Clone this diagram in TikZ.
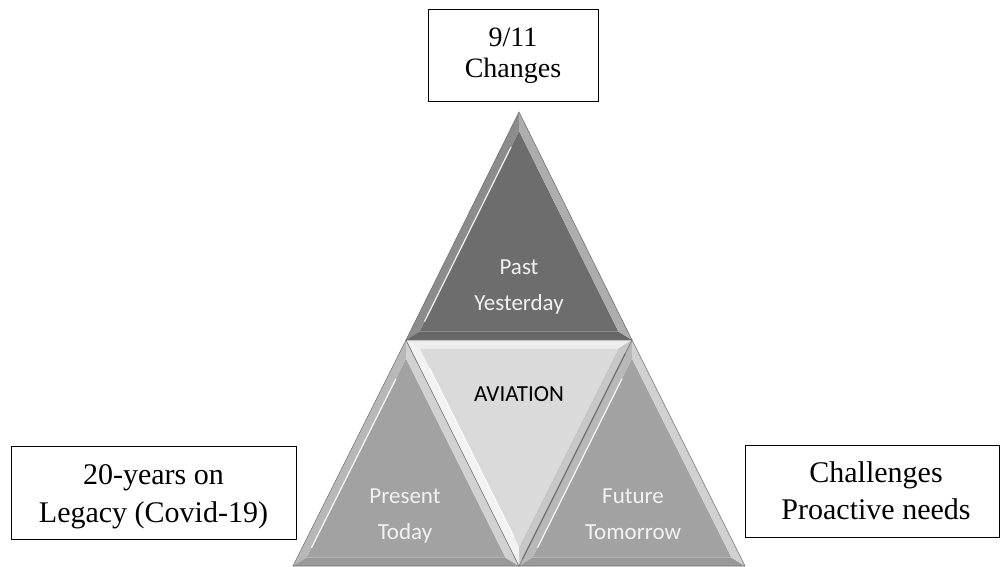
\documentclass[tikz,border=0pt]{standalone}
\usepackage{fontspec}
\setmainfont{Liberation Serif}
\newfontfamily\calfont{Carlito}
\usetikzlibrary{calc}
\definecolor{topface}{HTML}{6D6D6D}
\definecolor{lowface}{HTML}{A2A2A2}
\definecolor{midface}{HTML}{DADADA}
\newcommand{\bevtri}[8]{%
  \path #1 coordinate (o1) #2 coordinate (o2) #3 coordinate (o3);
  \path ($#4!0.88!(o1)$) coordinate (i1) ($#4!0.88!(o2)$) coordinate (i2) ($#4!0.88!(o3)$) coordinate (i3);
  \fill[#5] (i1)--(i2)--(i3)--cycle;
  \fill[#6] (o1)--(o2)--(i2)--(i1)--cycle;
  \fill[#7] (o2)--(o3)--(i3)--(i2)--cycle;
  \fill[#8] (o3)--(o1)--(i1)--(i3)--cycle;
}
\tikzset{
  box/.style={draw=black, line width=1pt, fill=white, align=center, inner sep=0pt,
    font=\fontsize{28}{31}\selectfont},
  trilabel/.style={text=white!95!black, align=center, font=\calfont\fontsize{23}{36}\selectfont},
  edge/.style={draw=black!55, line width=0.6pt},
  shine/.style={draw=white, line width=1.2pt, opacity=0.9},
}
\begin{document}
\begin{tikzpicture}[x=1pt,y=-1pt]
\useasboundingbox (0,0) rectangle (1003,567);
% top triangle (Past)
\bevtri{(519,112)}{(406,340)}{(632,340)}{(519,270)}{topface}{black!45}{black!60}{black!32}
\draw[shine] ($(i1)!0.08!(i2)$) -- ($(i1)!0.95!(i2)$);
\draw[edge] (o1)--(o2)--(o3)--cycle;
% lower-left (Present)
\bevtri{(406,340)}{(293,566)}{(519,566)}{(406,496)}{lowface}{black!28}{black!40}{black!18}
\draw[shine] ($(i1)!0.1!(i2)$) -- ($(i1)!0.95!(i2)$);
\draw[shine] ($(o3)!0.05!(o1)$) -- ($(o3)!0.9!(o1)$);
\draw[edge] (o1)--(o2)--(o3)--cycle;
% lower-right (Future)
\bevtri{(632,340)}{(519,566)}{(745,566)}{(632,496)}{lowface}{black!28}{black!40}{black!18}
\draw[shine] ($(i1)!0.1!(i2)$) -- ($(i1)!0.95!(i2)$);
\draw[edge] (o1)--(o2)--(o3)--cycle;
% centre inverted (AVIATION)
\bevtri{(406,340)}{(632,340)}{(519,566)}{(519,410)}{midface}{black!7}{black!22}{black!5}
\draw[shine] ($(i3)!0.05!(i1)$) -- ($(i3)!0.9!(i1)$);
\draw[draw=black!60, line width=1pt] ($(o2)!0.06!(o3)$) -- ($(o2)!0.97!(o3)$);
\draw[edge] (o1)--(o2)--(o3)--cycle;
% labels
\node[trilabel] (past) at (519,287) {Past\\Yesterday};
\node[trilabel] (present) at (405,516) {Present\\Today};
\node[trilabel] (future) at (633,516) {Future\\Tomorrow\vphantom{y}};
\node[align=center, text=black, font=\calfont\fontsize{23}{27}\selectfont] (aviation) at (519,394) {AVIATION};
% boxes
\node[box, minimum width=170pt, minimum height=92pt] (changes) at (513,56) {9/11\\Changes};
\node[box, minimum width=285pt, minimum height=93pt, font=\fontsize{30}{38}\selectfont] (legacy) at (153.5,492.5) {\rule{0pt}{29pt}20-years on\\Legacy (Covid-19)};
\node[box, minimum width=254pt, minimum height=92pt, font=\fontsize{30}{37}\selectfont] (needs) at (872,491) {\hspace*{8pt}Challenges\\\hspace*{8pt}Proactive needs};
\end{tikzpicture}
\end{document}
